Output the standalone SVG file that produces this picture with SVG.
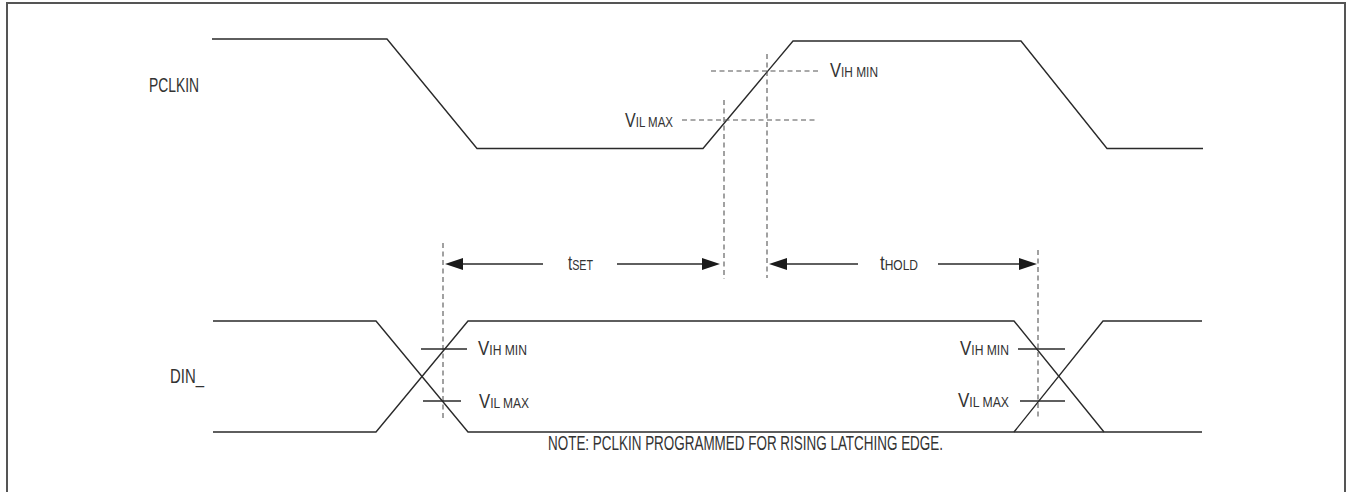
<svg xmlns="http://www.w3.org/2000/svg" width="1348" height="492" viewBox="0 0 1348 492">
<style>
.frame{fill:none;stroke:#555;stroke-width:2}
.wave{fill:none;stroke:#2a2a2a;stroke-width:1.4;stroke-linejoin:miter}
.lvl{fill:none;stroke:#444;stroke-width:1.8}
.dash{fill:none;stroke:#555;stroke-width:1.1;stroke-dasharray:5 3.5}
.tick{fill:none;stroke:#2a2a2a;stroke-width:1.3}
.arr{fill:none;stroke:#2a2a2a;stroke-width:1.4}
.head{fill:#1a1a1a}
text{font-family:"Liberation Sans",Arial,sans-serif;font-size:19.5px;fill:#333}
.sub{font-size:14px}
</style>
<rect width="1348" height="492" fill="#fff"/>
<path class="frame" d="M7,492 V3 H1345 V492"/>

<g id="pclkin">
<text x="149" y="92" textLength="50" lengthAdjust="spacingAndGlyphs">PCLKIN</text>
<path class="wave" d="M212,39 H387 L477,148.5 H703 L793,41 H1021 L1107,148.5 H1203"/>
</g>

<g id="thresholds-pclkin">
<line class="dash" x1="711" y1="71" x2="820" y2="71"/>
<line class="dash" x1="682" y1="120" x2="818" y2="120"/>
<line class="dash" x1="724" y1="100" x2="724" y2="279"/>
<line class="dash" x1="767" y1="54" x2="767" y2="278"/>
<text x="830" y="77" textLength="48" lengthAdjust="spacingAndGlyphs">V<tspan class="sub">IH MIN</tspan></text>
<text x="625" y="127" textLength="48" lengthAdjust="spacingAndGlyphs">V<tspan class="sub">IL MAX</tspan></text>
</g>

<g id="din">
<text x="170" y="383" textLength="34" lengthAdjust="spacingAndGlyphs">DIN_</text>
<path class="wave" d="M213,321 H376 L468,432 H1014 L1104,432 H1202"/>
<path class="wave" d="M213,432 H376 L468,321 H1014 L1104,432"/>
<path class="wave" d="M1014,432 L1103,321 H1202"/>
</g>

<g id="thresholds-din">
<line class="dash" x1="443" y1="243" x2="443" y2="419"/>
<line class="dash" x1="1038" y1="250" x2="1038" y2="418"/>
<line class="tick" x1="421" y1="349" x2="467" y2="349"/>
<line class="tick" x1="423" y1="401" x2="461" y2="401"/>
<line class="tick" x1="1018" y1="349" x2="1065" y2="349"/>
<line class="tick" x1="1020" y1="401" x2="1065" y2="401"/>
<text x="478" y="355" textLength="49" lengthAdjust="spacingAndGlyphs">V<tspan class="sub">IH MIN</tspan></text>
<text x="479" y="408" textLength="50" lengthAdjust="spacingAndGlyphs">V<tspan class="sub">IL MAX</tspan></text>
<text x="960" y="355" textLength="49" lengthAdjust="spacingAndGlyphs">V<tspan class="sub">IH MIN</tspan></text>
<text x="958" y="407" textLength="51" lengthAdjust="spacingAndGlyphs">V<tspan class="sub">IL MAX</tspan></text>
</g>

<g id="connectors">
<line class="arr" x1="455" y1="264" x2="543" y2="264"/>
<polygon class="head" points="445,264 463,258 463,270"/>
<line class="arr" x1="617" y1="264" x2="710" y2="264"/>
<polygon class="head" points="720,264 702,258 702,270"/>
<line class="arr" x1="779" y1="264" x2="858" y2="264"/>
<polygon class="head" points="769,264 787,258 787,270"/>
<line class="arr" x1="938" y1="264" x2="1027" y2="264"/>
<polygon class="head" points="1037,264 1019,258 1019,270"/>
<text x="568" y="270" textLength="25" lengthAdjust="spacingAndGlyphs">t<tspan class="sub">SET</tspan></text>
<text x="880" y="270" textLength="38" lengthAdjust="spacingAndGlyphs">t<tspan class="sub">HOLD</tspan></text>
</g>

<text x="548" y="450" textLength="395" lengthAdjust="spacingAndGlyphs">NOTE: PCLKIN PROGRAMMED FOR RISING LATCHING EDGE.</text>
</svg>
